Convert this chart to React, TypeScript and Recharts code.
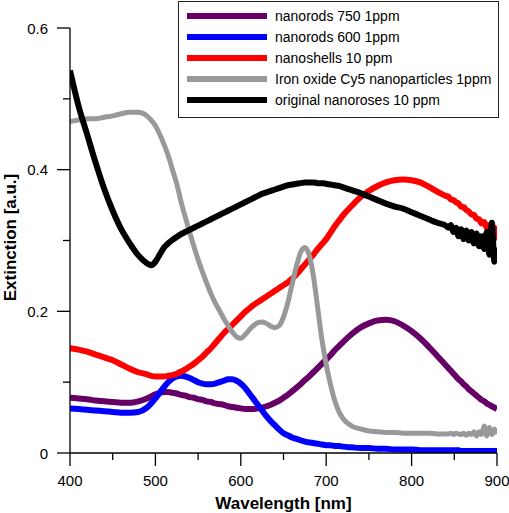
import React from "react";
import { LineChart, Line, XAxis, YAxis, Legend } from "recharts";

const wavelengths = [
  400, 410, 420, 430, 440, 450, 460, 470, 480, 490,
  495, 500, 505, 510, 515, 520, 525, 530, 535, 540,
  545, 550, 555, 560, 565, 570, 575, 580, 585, 590,
  595, 600, 605, 610, 615, 620, 625, 630, 635, 640,
  645, 650, 655, 660, 665, 670, 675, 680, 685, 690,
  695, 700, 705, 710, 715, 720, 730, 740, 750, 760,
  770, 780, 790, 800, 810, 820, 830, 840, 843, 846,
  849, 852, 855, 858, 861, 864, 867, 870, 873, 876,
  879, 882, 885, 888, 891, 894, 897, 900,
];

const nanorods750 = [
  0.078, 0.077, 0.076, 0.074, 0.073, 0.072, 0.071, 0.071, 0.073, 0.077,
  0.080, 0.083, 0.085, 0.086, 0.086, 0.085, 0.084, 0.082, 0.081, 0.079,
  0.078, 0.076, 0.075, 0.073, 0.072, 0.070, 0.069, 0.068, 0.066, 0.065,
  0.064, 0.063, 0.062, 0.062, 0.062, 0.063, 0.064, 0.066, 0.068, 0.071,
  0.074, 0.078, 0.082, 0.087, 0.092, 0.097, 0.103, 0.108, 0.114, 0.120,
  0.126, 0.132, 0.138, 0.145, 0.151, 0.157, 0.168, 0.177, 0.183, 0.187,
  0.188, 0.186, 0.180, 0.172, 0.162, 0.150, 0.137, 0.124, 0.120, 0.116,
  0.112, 0.108, 0.104, 0.101, 0.097, 0.094, 0.090, 0.087, 0.084, 0.081,
  0.078, 0.075, 0.073, 0.070, 0.068, 0.066, 0.064, 0.062,
];

const nanorods600 = [
  0.063, 0.062, 0.061, 0.060, 0.059, 0.058, 0.057, 0.057, 0.058, 0.064,
  0.070, 0.077, 0.085, 0.093, 0.100, 0.105, 0.108, 0.109, 0.108, 0.106,
  0.103, 0.100, 0.098, 0.097, 0.097, 0.098, 0.100, 0.102, 0.104, 0.104,
  0.102, 0.098, 0.092, 0.084, 0.076, 0.068, 0.060, 0.052, 0.045, 0.039,
  0.033, 0.028, 0.025, 0.022, 0.020, 0.018, 0.016, 0.015, 0.014, 0.013,
  0.012, 0.011, 0.011, 0.010, 0.010, 0.009, 0.008, 0.007, 0.007, 0.006,
  0.006, 0.005, 0.005, 0.005, 0.004, 0.004, 0.004, 0.004, 0.004, 0.004,
  0.004, 0.004, 0.004, 0.003, 0.003, 0.003, 0.003, 0.003, 0.003, 0.003,
  0.003, 0.003, 0.003, 0.003, 0.003, 0.003, 0.003, 0.003,
];

const nanoshells = [
  0.148, 0.146, 0.143, 0.139, 0.135, 0.131, 0.125, 0.119, 0.114, 0.111,
  0.109, 0.108, 0.108, 0.108, 0.109, 0.110, 0.112, 0.115, 0.118, 0.122,
  0.126, 0.131, 0.136, 0.142, 0.148, 0.155, 0.162, 0.169, 0.175, 0.181,
  0.187, 0.193, 0.199, 0.204, 0.209, 0.213, 0.217, 0.221, 0.225, 0.229,
  0.233, 0.237, 0.241, 0.246, 0.252, 0.259, 0.266, 0.273, 0.280, 0.288,
  0.295, 0.302, 0.311, 0.320, 0.328, 0.336, 0.349, 0.361, 0.370, 0.377,
  0.382, 0.385, 0.386, 0.385, 0.382, 0.376, 0.369, 0.363, 0.362, 0.358,
  0.357, 0.354, 0.352, 0.348, 0.347, 0.343, 0.341, 0.337, 0.336, 0.331,
  0.330, 0.324, 0.326, 0.318, 0.322, 0.306, 0.318, 0.300,
];

const ironOxideCy5 = [
  0.468, 0.470, 0.472, 0.472, 0.474, 0.476, 0.479, 0.481, 0.481, 0.476,
  0.470, 0.462, 0.450, 0.436, 0.420, 0.400, 0.380, 0.355, 0.333, 0.312,
  0.292, 0.273, 0.256, 0.240, 0.225, 0.212, 0.201, 0.190, 0.180, 0.171,
  0.164, 0.162, 0.167, 0.174, 0.180, 0.184, 0.185, 0.183, 0.179, 0.177,
  0.180, 0.192, 0.212, 0.238, 0.263, 0.283, 0.290, 0.280, 0.250, 0.205,
  0.160, 0.125, 0.097, 0.074, 0.058, 0.048, 0.038, 0.034, 0.031, 0.030,
  0.029, 0.029, 0.028, 0.028, 0.028, 0.028, 0.027, 0.027, 0.027, 0.028,
  0.026, 0.028, 0.027, 0.026, 0.028, 0.025, 0.028, 0.026, 0.030, 0.024,
  0.030, 0.026, 0.038, 0.024, 0.036, 0.026, 0.034, 0.027,
];

const nanoroses = [
  0.540, 0.490, 0.450, 0.410, 0.373, 0.342, 0.316, 0.296, 0.279, 0.268,
  0.265, 0.270, 0.280, 0.290, 0.296, 0.301, 0.305, 0.309, 0.312, 0.315,
  0.318, 0.321, 0.324, 0.327, 0.330, 0.333, 0.336, 0.339, 0.342, 0.345,
  0.348, 0.351, 0.354, 0.357, 0.360, 0.363, 0.366, 0.368, 0.370, 0.372,
  0.374, 0.376, 0.378, 0.379, 0.380, 0.381, 0.382, 0.382, 0.382, 0.381,
  0.381, 0.380, 0.379, 0.378, 0.377, 0.375, 0.371, 0.367, 0.362, 0.357,
  0.352, 0.348, 0.345, 0.340, 0.335, 0.330, 0.325, 0.321, 0.318, 0.322,
  0.312, 0.318, 0.306, 0.316, 0.302, 0.314, 0.300, 0.312, 0.296, 0.310,
  0.292, 0.306, 0.288, 0.312, 0.280, 0.325, 0.270, 0.290,
];

const xTicks = [400, 450, 500, 550, 600, 650, 700, 750, 800, 850, 900];
const yTicks = [0, 0.1, 0.2, 0.3, 0.4, 0.5, 0.6];

const seriesInfo = [
  { key: "r750", name: "nanorods 750 1ppm", color: "#660066", width: 6 },
  { key: "r600", name: "nanorods 600 1ppm", color: "#0000ff", width: 6 },
  { key: "shells", name: "nanoshells 10 ppm", color: "#ff0000", width: 6 },
  { key: "iron", name: "Iron oxide Cy5 nanoparticles 1ppm", color: "#999999", width: 5 },
  { key: "roses", name: "original nanoroses 10 ppm", color: "#000000", width: 6 },
];

const data = wavelengths.map((wl, i) => ({
  wl,
  r750: nanorods750[i],
  r600: nanorods600[i],
  shells: nanoshells[i],
  iron: ironOxideCy5[i],
  roses: nanoroses[i],
}));

const FONT = "'Liberation Sans', Arial, Helvetica, sans-serif";

const XTick = (props: any) => {
  const { x, y, payload } = props;
  const major = payload.value % 100 === 0;
  return (
    <g>
      <line x1={x} x2={x} y1={y} y2={y + (major ? 13 : 7)} stroke="#000" strokeWidth={1.3} />
      {major && (
        <text x={x} y={y + 27} textAnchor="middle" dominantBaseline="central" fontSize={15} fontFamily={FONT} fill="#000">
          {payload.value}
        </text>
      )}
    </g>
  );
};

const YTick = (props: any) => {
  const { x, y, payload } = props;
  const major = Math.round(payload.value * 10) % 2 === 0;
  return (
    <g>
      <line x1={x - (major ? 13 : 7)} x2={x} y1={y} y2={y} stroke="#000" strokeWidth={1.3} />
      {major && (
        <text x={x - 22} y={y} textAnchor="end" dominantBaseline="central" fontSize={15} fontFamily={FONT} fill="#000">
          {String(payload.value)}
        </text>
      )}
    </g>
  );
};

const renderLegend = () => (
  <div
    style={{
      width: 319,
      height: 115,
      border: "1.5px solid #222",
      background: "#fff",
      position: "relative",
      boxSizing: "content-box",
      fontFamily: FONT,
      fontSize: 14,
    }}
  >
    {seriesInfo.map((s, i) => (
      <div
        key={s.key}
        style={{ position: "absolute", left: 0, top: 14 + i * 21, height: 0, width: "100%" }}
      >
        <div
          style={{
            position: "absolute",
            left: 8,
            top: -3,
            width: 80,
            height: 6,
            background: s.color,
          }}
        />
        <div
          style={{
            position: "absolute",
            left: 96,
            top: -9,
            lineHeight: "18px",
            whiteSpace: "nowrap",
            color: "#000",
          }}
        >
          {s.name}
        </div>
      </div>
    ))}
  </div>
);

export default function App() {
  return (
    <div style={{ position: "absolute", left: 0, top: 0, width: 509, height: 513, background: "#fff" }}>
      <LineChart width={509} height={513} data={data} margin={{ top: 28, right: 12, bottom: 0, left: 0 }}>
        <XAxis
          dataKey="wl"
          type="number"
          domain={[400, 900]}
          ticks={xTicks}
          interval={0}
          height={60}
          tickSize={0}
          tickMargin={0}
          tickLine={false}
          tick={<XTick />}
          axisLine={{ stroke: "#000", strokeWidth: 1.3 }}
          allowDataOverflow
          label={{
            content: (p: any) => {
              const vb = p.viewBox;
              return (
                <text
                  x={vb.x + vb.width / 2}
                  y={vb.y + 50}
                  textAnchor="middle"
                  dominantBaseline="central"
                  fontSize={17}
                  fontWeight="bold"
                  fontFamily={FONT}
                  fill="#000"
                >
                  Wavelength [nm]
                </text>
              );
            },
          }}
        />
        <YAxis
          type="number"
          domain={[0, 0.6]}
          ticks={yTicks}
          interval={0}
          width={70}
          tickSize={0}
          tickMargin={0}
          tickLine={false}
          tick={<YTick />}
          axisLine={{ stroke: "#000", strokeWidth: 1.3 }}
          allowDataOverflow
          label={{
            content: (p: any) => {
              const vb = p.viewBox;
              const cx = vb.x + 10;
              const cy = vb.y + vb.height / 2 - 3;
              return (
                <text
                  x={cx}
                  y={cy}
                  transform={`rotate(-90 ${cx} ${cy})`}
                  textAnchor="middle"
                  dominantBaseline="central"
                  fontSize={17}
                  fontWeight="bold"
                  fontFamily={FONT}
                  fill="#000"
                >
                  Extinction [a.u.]
                </text>
              );
            },
          }}
        />
        <Legend
          layout="horizontal"
          verticalAlign="middle"
          align="center"
          content={renderLegend}
          wrapperStyle={{ position: "absolute", left: 178, top: 1, width: 322, height: 118 }}
        />
        {seriesInfo.map((s) => (
          <Line
            key={s.key}
            dataKey={s.key}
            name={s.name}
            type="monotone"
            stroke={s.color}
            strokeWidth={s.width}
            strokeLinejoin="round"
            dot={false}
            activeDot={false}
            isAnimationActive={false}
          />
        ))}
      </LineChart>
    </div>
  );
}
